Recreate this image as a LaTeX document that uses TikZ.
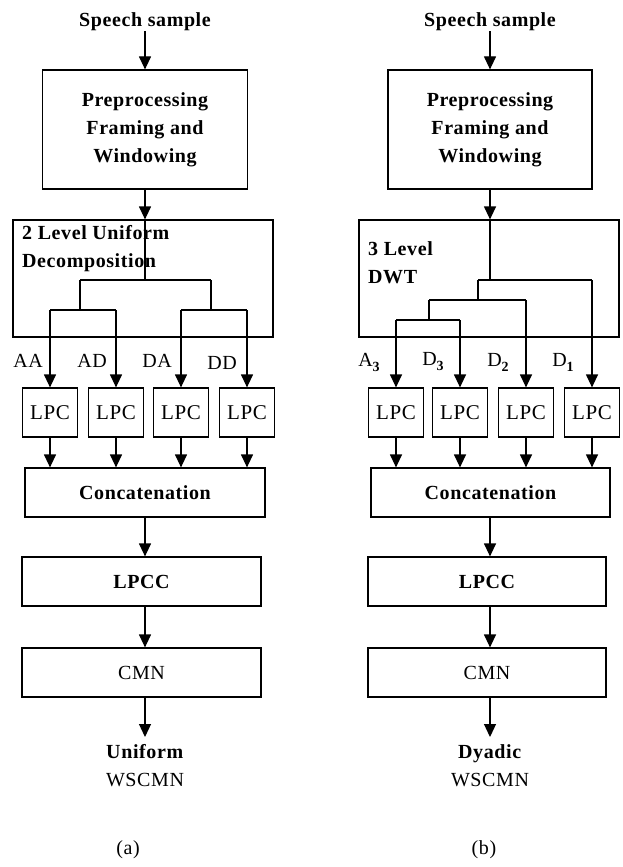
\documentclass[tikz,border=0pt]{standalone}
\usepackage{fontspec}
\setmainfont[LetterSpace=3]{Liberation Serif}
\usetikzlibrary{arrows.meta}

\newcommand\diafont{\fontsize{20}{28}\selectfont}
\newcommand\sub[1]{\raisebox{-5pt}{\fontsize{14}{14}\selectfont\bfseries #1}}

\tikzset{
    box/.style={draw, line width=1.2pt, inner sep=0pt, minimum height=49pt},
    lpc/.style={box, minimum width=55pt, font=\fontsize{21}{24}\selectfont},
    wide/.style={box, minimum width=239pt, font=\diafont\bfseries},
    arr/.style={line width=1.2pt, -{Triangle[width=12pt,length=13pt]}},
    tree/.style={line width=1.2pt},
    lbl/.style={inner sep=0pt},
    bold/.style={font=\diafont\bfseries},
    result/.style={lbl, align=center, anchor=north, inner ysep=7pt}
}

\begin{document}
\begin{tikzpicture}[x=1pt, y=-1pt, font=\diafont]
    \useasboundingbox (0,0) rectangle (622,867);

    % (a) uniform decomposition
    \node[lbl, bold] (spA) at (145,22) {Speech sample};
    \node[box, bold, minimum width=205pt, minimum height=119pt, align=center]
        (preA) at (145,129.5) {Preprocessing\\Framing and\\Windowing};
    \node[box, minimum width=260pt, minimum height=117pt] (decA) at (143,278.5) {};
    \node[lbl, bold, anchor=base west, align=left]
        (decAtxt) at (22,267) {2 Level Uniform\\Decomposition};
    \node[lpc] (lpcA1) at (50,412.5) {LPC};
    \node[lpc] (lpcA2) at (116,412.5) {LPC};
    \node[lpc] (lpcA3) at (181,412.5) {LPC};
    \node[lpc] (lpcA4) at (247,412.5) {LPC};
    \node[lbl] (aa) at (28,361) {AA};
    \node[lbl] (ad) at (92,361) {AD};
    \node[lbl] (da) at (157,361) {DA};
    \node[lbl] (dd) at (222,363) {DD};
    \node[wide, minimum width=240pt] (concA) at (145,492.5) {Concatenation};
    \node[wide] (lpccA) at (141.5,581.5) {LPCC};
    \node[box, minimum width=239pt] (cmnA) at (141.5,672.5) {CMN};
    \node[result] (outA) at (145,737) {\textbf{Uniform}\\WSCMN};
    \node[lbl] (capA) at (128,850) {(a)};

    \coordinate (tA) at (145,280);
    \coordinate (tA1) at (80,280);
    \coordinate (tA2) at (211,280);
    \draw[arr] (spA) -- (preA);
    \draw[arr] (preA.south) -- (preA.south |- decA.north);
    \draw[tree] (preA.south |- decA.north) -- (tA);
    \draw[tree] (tA1) -- (tA2);
    \draw[tree] (tA1) -- (tA1 |- 0,310) (lpcA1 |- 0,310) -- (lpcA2 |- 0,310);
    \draw[tree] (tA2) -- (tA2 |- 0,310) (lpcA3 |- 0,310) -- (lpcA4 |- 0,310);
    \foreach \i in {1,...,4} {
        \draw[arr] (lpcA\i |- 0,310) -- (lpcA\i.north);
        \draw[arr] (lpcA\i.south) -- (lpcA\i |- concA.north);
    }
    \draw[arr] (concA.south) -- (concA.south |- lpccA.north);
    \draw[arr] (concA.south |- lpccA.south) -- (concA.south |- cmnA.north);
    \draw[arr] (concA.south |- cmnA.south) -- (outA.north);

    % (b) dyadic decomposition
    \node[lbl, bold] (spB) at (490,22) {Speech sample};
    \node[box, bold, minimum width=204pt, minimum height=119pt, align=center]
        (preB) at (490,129.5) {Preprocessing\\Framing and\\Windowing};
    \node[box, minimum width=260pt, minimum height=117pt] (decB) at (489,278.5) {};
    \node[lbl, bold, anchor=base west, align=left]
        (decBtxt) at (368,283) {3 Level\\DWT};
    \node[lpc] (lpcB1) at (396,412.5) {LPC};
    \node[lpc] (lpcB2) at (460,412.5) {LPC};
    \node[lpc] (lpcB3) at (526,412.5) {LPC};
    \node[lpc] (lpcB4) at (592,412.5) {LPC};
    \node[lbl] (a3) at (369,362) {A\sub{3}};
    \node[lbl] (d3) at (433,362) {D\sub{3}};
    \node[lbl] (d2) at (498,362) {D\sub{2}};
    \node[lbl] (d1) at (563,362) {D\sub{1}};
    \node[wide] (concB) at (490.5,492.5) {Concatenation};
    \node[wide, minimum width=238pt] (lpccB) at (487,581.5) {LPCC};
    \node[box, minimum width=238pt] (cmnB) at (487,672.5) {CMN};
    \node[result] (outB) at (490,737) {\textbf{Dyadic}\\WSCMN};
    \node[lbl] (capB) at (484,850) {(b)};

    \coordinate (tB) at (490,280);
    \coordinate (tB1) at (478,280);
    \coordinate (tB2) at (429,300);
    \draw[arr] (spB) -- (preB);
    \draw[arr] (preB.south) -- (preB.south |- decB.north);
    \draw[tree] (preB.south |- decB.north) -- (tB);
    \draw[tree] (tB1) -- (lpcB4 |- tB) (tB1) -- (tB1 |- 0,300);
    \draw[tree] (tB2) -- (lpcB3 |- 0,300) (tB2) -- (tB2 |- 0,320);
    \draw[tree] (lpcB1 |- 0,320) -- (lpcB2 |- 0,320);
    \draw[arr] (lpcB1 |- 0,320) -- (lpcB1.north);
    \draw[arr] (lpcB2 |- 0,320) -- (lpcB2.north);
    \draw[arr] (lpcB3 |- 0,300) -- (lpcB3.north);
    \draw[arr] (lpcB4 |- tB) -- (lpcB4.north);
    \foreach \i in {1,...,4}
        \draw[arr] (lpcB\i.south) -- (lpcB\i |- concB.north);
    \draw[arr] (preB.south |- concB.south) -- (preB.south |- lpccB.north);
    \draw[arr] (preB.south |- lpccB.south) -- (preB.south |- cmnB.north);
    \draw[arr] (preB.south |- cmnB.south) -- (outB.north);
\end{tikzpicture}
\end{document}
